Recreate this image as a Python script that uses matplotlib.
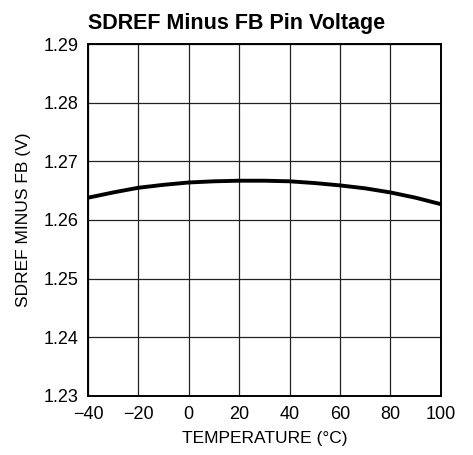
import numpy as np
import matplotlib.pyplot as plt
from matplotlib import font_manager

temp = [-40, -30, -20, -10, 0, 10, 20, 30, 40, 50, 60, 70, 80, 90, 100]
volts = [1.2638, 1.2647, 1.2655, 1.2660, 1.2664, 1.2666, 1.2667, 1.2667, 1.2666, 1.2663, 1.2659, 1.2654, 1.2647, 1.2638, 1.2627]

xticks = [-40, -20, 0, 20, 40, 60, 80, 100]
xlabels = ['\u221240', '\u221220', '0', '20', '40', '60', '80', '100']
yticks = [1.23, 1.24, 1.25, 1.26, 1.27, 1.28, 1.29]

names = {f.name for f in font_manager.fontManager.ttflist}
fam = 'Liberation Sans Narrow' if 'Liberation Sans Narrow' in names else 'Liberation Sans'
plt.rcParams['font.family'] = [fam, 'DejaVu Sans']

fig = plt.figure(figsize=(4.73, 4.55), dpi=100)
ax = fig.add_axes([0.186, 0.130, 0.746, 0.773])

ax.plot(temp, volts, color='black', lw=2.8, solid_capstyle='butt')

ax.set_xlim(-40, 100)
ax.set_ylim(1.23, 1.29)
ax.set_xticks(xticks)
ax.set_xticklabels(xlabels)
ax.set_yticks(yticks)
ax.set_yticklabels(['%.2f' % v for v in yticks])
ax.grid(True, color='#222222', lw=0.9)
ax.tick_params(length=0, labelsize=13, pad=7)
for s in ax.spines.values():
    s.set_linewidth(1.4)
    s.set_color('black')

ax.set_xlabel('TEMPERATURE (\u00b0C)', fontsize=12.5, labelpad=6)
ax.set_ylabel('SDREF MINUS FB (V)', fontsize=12.5, labelpad=9)
ax.set_title('SDREF Minus FB Pin Voltage', fontsize=15.5, fontweight='bold', pad=11, x=0.42)

fig.savefig('out.png', dpi=100)
